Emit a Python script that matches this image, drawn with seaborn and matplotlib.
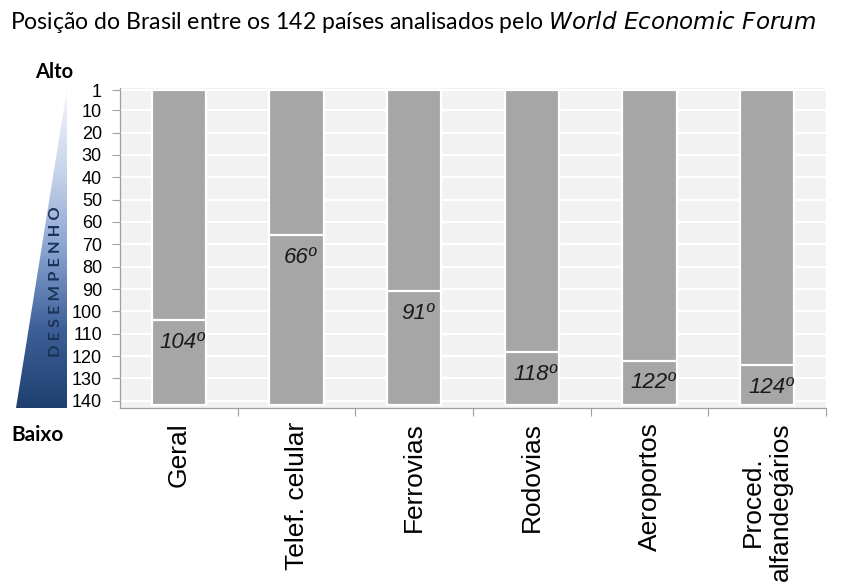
import numpy as np
import pandas as pd
import matplotlib
matplotlib.use("Agg")
import matplotlib.pyplot as plt
import seaborn as sns
from matplotlib.patches import Polygon
from matplotlib.colors import LinearSegmentedColormap

categories = ["Geral", "Telef. celular", "Ferrovias", "Rodovias", "Aeroportos", "Proced.\nalfandegários"]
ranks = [104, 66, 91, 118, 122, 124]
rank_labels = ["104º", "66º", "91º", "118º", "122º", "124º"]
total = 142
yticks = [1, 10, 20, 30, 40, 50, 60, 70, 80, 90, 100, 110, 120, 130, 140]

sns.set_theme(style="white")

W, H = 844, 584
fig = plt.figure(figsize=(W / 100, H / 100), dpi=100)
fig.patch.set_facecolor("white")

ax = fig.add_axes([120 / W, 1 - 408 / H, (826 - 120) / W, (408 - 88) / H])
ax.set_facecolor("#F2F2F2")

df_full = pd.DataFrame({"cat": categories, "h": [total - 1] * len(categories)})
df_top = pd.DataFrame({"cat": categories, "h": [r - 1 for r in ranks]})

sns.barplot(data=df_full, x="cat", y="h", ax=ax, color="#A6A6A6", saturation=1,
            width=0.46, bottom=1, edgecolor="white", linewidth=1.6, zorder=3)
sns.barplot(data=df_top, x="cat", y="h", ax=ax, color="#A6A6A6", saturation=1,
            width=0.46, bottom=1, edgecolor="white", linewidth=1.6, zorder=3)

ax.set_ylim(143.2, 0.1)
ax.set_xlim(-0.5, len(categories) - 0.5)
ax.set_yticks(yticks)
ax.set_yticklabels([str(t) for t in yticks], fontsize=13, family="Liberation Sans", color="black")
ax.yaxis.grid(True, color="white", linewidth=1.6, zorder=0)
ax.set_axisbelow(True)

ax.set_xticks(range(len(categories)))
ax.set_xticklabels(categories, rotation=90, fontsize=19, family="Liberation Sans",
                   va="top", ha="center", multialignment="center", color="black")
ax.tick_params(axis="x", length=0, pad=10)
ax.tick_params(axis="y", length=6, width=0.8, color="#A0A0A0", direction="out", pad=7, left=True)
# category boundary ticks on the x axis
ax.set_xticks([i + 0.5 for i in range(len(categories))], minor=True)
ax.tick_params(axis="x", which="minor", length=6, width=0.8, color="#A0A0A0", bottom=True, direction="out")

for s in ["top", "right"]:
    ax.spines[s].set_visible(False)
for s in ["left", "bottom"]:
    ax.spines[s].set_color("#A0A0A0")
    ax.spines[s].set_linewidth(0.9)
ax.set_xlabel("")
ax.set_ylabel("")

for i, (r, lab) in enumerate(zip(ranks, rank_labels)):
    ax.text(i + 0.03, r + 10, lab, ha="center", va="center", fontsize=16,
            style="italic", family="Liberation Sans", color="#1A1A1A", zorder=5)

# overlay for decoration in pixel coords
ov = fig.add_axes([0, 0, 1, 1], zorder=-1)
ov.set_xlim(0, W)
ov.set_ylim(H, 0)
ov.axis("off")

cmap = LinearSegmentedColormap.from_list("grad", ["#F4F7FC", "#C9D5EA", "#8AA4D2", "#3E6099", "#1E3F6F"])
grad = np.linspace(0, 1, 256).reshape(-1, 1)
im = ov.imshow(grad, cmap=cmap, extent=[16, 67, 408, 89], aspect="auto", zorder=1)
tri = Polygon([[67, 89], [67, 408], [16, 408]], closed=True, transform=ov.transData,
              facecolor="none", edgecolor="none")
ov.add_patch(tri)
im.set_clip_path(tri)

ov.text(56, 282, "D E S E M P E N H O", rotation=90, ha="center", va="center",
        fontsize=11.8, fontweight="bold", color="#1B3358", family="Lato", zorder=3)
ov.text(54, 72, "Alto", ha="center", va="center", fontsize=14.5, fontweight="bold",
        family="Lato", color="black")
ov.text(38, 435, "Baixo", ha="center", va="center", fontsize=15, fontweight="bold",
        family="Lato", color="black")

fig.text(10 / W, 1 - 22 / H, "Posição do Brasil entre os 142 países analisados pelo $\\mathit{World\\ Economic\\ Forum}$",
         ha="left", va="center", fontsize=16.6, family="Lato", color="black")

fig.savefig("out.png", dpi=100)
